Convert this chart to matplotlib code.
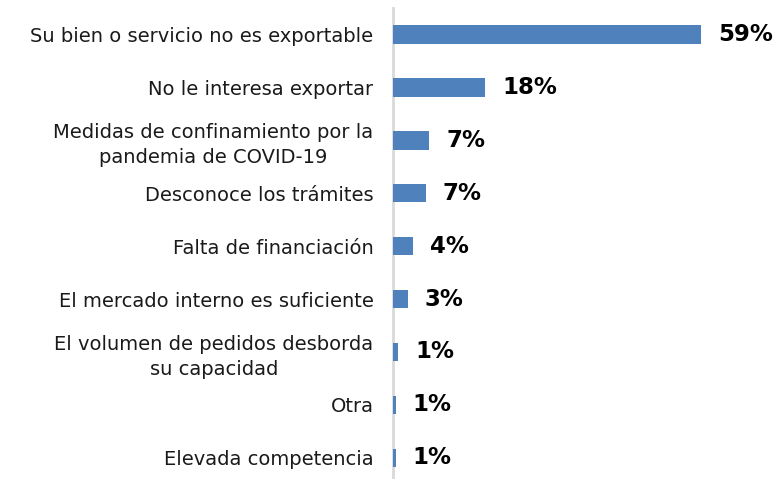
import matplotlib.pyplot as plt

categorias = [
    'Su bien o servicio no es exportable',
    'No le interesa exportar',
    'Medidas de confinamiento por la\npandemia de COVID-19',
    'Desconoce los trámites',
    'Falta de financiación',
    'El mercado interno es suficiente',
    'El volumen de pedidos desborda\nsu capacidad',
    'Otra',
    'Elevada competencia',
]
valores = [59.0, 17.6, 6.9, 6.3, 3.9, 2.8, 1.0, 0.5, 0.5]
etiquetas = ['59%', '18%', '7%', '7%', '4%', '3%', '1%', '1%', '1%']

fig = plt.figure(figsize=(7.81, 4.79), dpi=100)
ax = fig.add_axes([393 / 781, 0, 1 - 393 / 781, 1 - 8 / 479])

pos = list(range(len(categorias)))
ax.barh(pos, valores, height=0.35, color='#4F81BD', zorder=3)

ax.set_ylim(8.4, -0.5)
ax.set_xlim(0, 74.3)

for i, (v, t) in enumerate(zip(valores, etiquetas)):
    ax.annotate(t, (v, i), xytext=(17, 0), textcoords='offset pixels',
                ha='left', va='center', fontsize=16.5, fontweight='bold',
                family='DejaVu Sans', color='black')

ax.set_yticks(pos)
ax.set_yticklabels(categorias, fontsize=14, family='DejaVu Sans', color='#1a1a1a',
                   ha='right', multialignment='center', linespacing=1.4)
ax.tick_params(axis='y', length=0, pad=14)
ax.set_xticks([])

for s in ['top', 'right', 'bottom']:
    ax.spines[s].set_visible(False)
ax.spines['left'].set_color('#d9d9d9')
ax.spines['left'].set_linewidth(2)
ax.spines['left'].set_zorder(1)

fig.savefig('out.png', dpi=100)
